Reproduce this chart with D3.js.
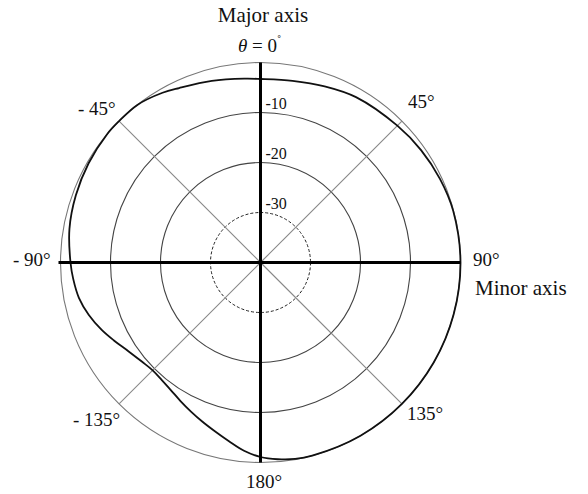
<!DOCTYPE html>
<html>
<head>
<meta charset="utf-8">
<script src="https://cdn.jsdelivr.net/npm/d3@7"></script>
<style>
  body { margin: 0; background: #fff; }
  svg text { font-family: "Liberation Serif", "Times New Roman", Times, serif; fill: #111; }
</style>
</head>
<body>
<svg id="chart" width="588" height="494"></svg>
<script>
// pattern: angle (deg, clockwise from major axis) and level (dB)
var angles = [0, 10, 20, 30, 45, 55, 65, 75, 90, 105, 120, 135, 150, 165, 170, 175, 180,
  -175, -170, -165, -160, -155, -150, -145, -140, -135, -130, -124, -118, -113, -107, -101, -95,
  -90, -80, -70, -60, -50, -45, -38, -30, -25, -15, -5];
var levels = [-3.3, -3.1, -2.5, -1.8, -1.3, -0.8, -0.4, -0.1, 0, 0, 0, 0, 0, 0, -0.1, -0.5, -1.1,
  -2.2, -3.7, -5.0, -6.1, -7.1, -8.0, -8.8, -9.3, -9.5, -9.1, -8.2, -6.8, -5.5, -4.1, -3.0, -2.4,
  -2.0, -1.2, -0.7, -0.3, 0, 0, 0, -0.8, -1.5, -2.4, -3.1];

var ringLevels = [-10, -20];
var ringLabels = ["-10", "-20", "-30"];
var dashedLevel = -30;
var spokeAngles = [45, 135, -45, -135];
var angleLabels = [
  {text: "- 45°", x: 78, y: 115},
  {text: "45°", x: 408, y: 108},
  {text: "- 90°", x: 13, y: 266},
  {text: "90°", x: 473, y: 266},
  {text: "- 135°", x: 73, y: 426},
  {text: "135°", x: 407, y: 420},
  {text: "180°", x: 246, y: 488}
];

var cx = 260.5, cy = 262.5, R = 200;
var svg = d3.select("#chart");
var g = svg.append("g").attr("transform", "translate(" + cx + "," + cy + ")");

var r = d3.scaleLinear().domain([-40, 0]).range([0, R]);
var serif = "'Liberation Serif', 'Times New Roman', Times, serif";

// rings
g.append("circle").attr("r", r(0))
  .style("fill", "none").style("stroke", "#777").style("stroke-width", 1.1);
g.selectAll("circle.ring")
  .data(ringLevels)
  .enter()
  .append("circle")
  .attr("class", "ring")
  .attr("r", function(d) { return r(d); })
  .style("fill", "none").style("stroke", "#444").style("stroke-width", 1.1);
g.append("circle").attr("r", r(dashedLevel))
  .style("fill", "none").style("stroke", "#222").style("stroke-width", 1)
  .style("stroke-dasharray", "3,2");

// diagonal spokes
g.selectAll("line.spoke")
  .data(spokeAngles)
  .enter()
  .append("line")
  .attr("x1", 0).attr("y1", 0)
  .attr("x2", function(d) { return r(0) * Math.sin(d * Math.PI / 180); })
  .attr("y2", function(d) { return -r(0) * Math.cos(d * Math.PI / 180); })
  .style("stroke", "#888").style("stroke-width", 1.1);

// pattern curve
var pts = angles.map(function(a, i) { return [a, levels[i]]; })
  .sort(function(a, b) { return a[0] - b[0]; });
var line = d3.lineRadial()
  .angle(function(d) { return d[0] * Math.PI / 180; })
  .radius(function(d) { return r(d[1]); })
  .curve(d3.curveCatmullRomClosed.alpha(0.5));
g.append("path")
  .attr("d", line(pts))
  .style("fill", "none").style("stroke", "#111").style("stroke-width", 1.8);

// main axes
g.append("line").attr("x1", 0).attr("x2", 0).attr("y1", -r(0)).attr("y2", r(0))
  .style("stroke", "#000").style("stroke-width", 3);
g.append("line").attr("x1", -r(0) - 2).attr("x2", r(0)).attr("y1", 0).attr("y2", 0)
  .style("stroke", "#000").style("stroke-width", 3);

// ring labels
g.selectAll("text.ringlab")
  .data(ringLabels)
  .enter()
  .append("text")
  .attr("x", 5)
  .attr("y", function(d) { return -r(+d) - 4; })
  .attr("font-family", serif)
  .style("font-size", "16px")
  .text(function(d) { return d; });

// angle labels
svg.selectAll("text.ang")
  .data(angleLabels)
  .enter()
  .append("text")
  .attr("x", function(d) { return d.x; })
  .attr("y", function(d) { return d.y; })
  .attr("font-family", serif)
  .style("font-size", "19px")
  .text(function(d) { return d.text; });

svg.append("text")
  .attr("x", 263).attr("y", 22)
  .attr("text-anchor", "middle")
  .attr("font-family", serif)
  .style("font-size", "21px")
  .text("Major axis");

var th = svg.append("text")
  .attr("x", 238).attr("y", 52)
  .attr("font-family", serif)
  .style("font-size", "19px");
th.append("tspan").style("font-style", "italic").text("θ");
th.append("tspan").text(" = 0");
th.append("tspan").attr("dy", -8).style("font-size", "13px").text("˚");

svg.append("text")
  .attr("x", 475).attr("y", 295)
  .attr("font-family", serif)
  .style("font-size", "21px")
  .text("Minor axis");
</script>
</body>
</html>
